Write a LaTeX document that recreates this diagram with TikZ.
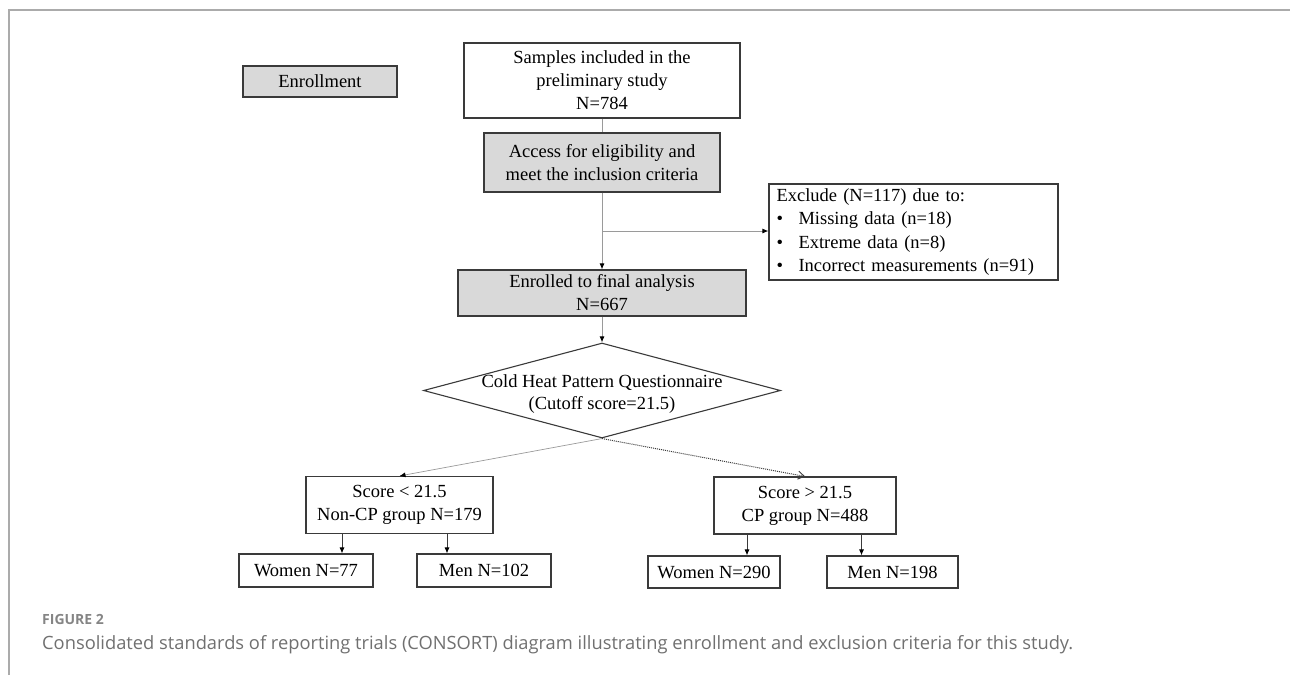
\documentclass[tikz,border=0pt]{standalone}
\usepackage{xcolor}
\usepackage{fontspec}
\setmainfont{Liberation Serif}
\newfontfamily\capfont[Ligatures=NoCommon]{Open Sans}
\usepackage{tikz}
\usetikzlibrary{shapes,arrows.meta,positioning,calc,shapes.geometric}
\definecolor{boxgray}{HTML}{D9D9D9}
\definecolor{boxline}{HTML}{3A3A3A}
\definecolor{linkgray}{HTML}{9A9A9A}
\definecolor{framegray}{HTML}{ABABAB}
\definecolor{capgray}{HTML}{707070}

\begin{document}
\begin{tikzpicture}[x=1pt, y=-1pt,
    box/.style={draw=boxline, fill=white, line width=1.1pt, inner sep=0pt, align=center, font=\fontsize{18.5}{23}\selectfont},
    graybox/.style={box, fill=boxgray},
    decision/.style={draw=boxline, fill=white, diamond, aspect=3.76, line width=1.1pt, inner sep=0pt},
    link/.style={draw=linkgray, line width=1pt},
    conn/.style={-{Latex[black, length=6pt, width=5pt]}, draw=linkgray, line width=1pt},
    sub_conn/.style={-{Latex[black, length=6pt, width=5pt]}, draw=boxline, line width=0.9pt},
    dot_conn/.style={-{Straight Barb[length=6pt, width=8pt]}, densely dotted, draw=boxline, line width=1pt},
    frame/.style={draw=framegray, line width=1.2pt}
]
    \useasboundingbox (0,0) rectangle (1290,675);
    \draw[frame] (9,675) -- (9,10) -- (1290,10);

    % Enrollment
    \node[graybox, minimum width=154, minimum height=31] (enroll) at (320,81.5) {Enrollment};
    \node[box, minimum width=276, minimum height=75] (samples) at (602,80.5) {Samples included in the\\preliminary study\\N=784};
    \node[graybox, minimum width=236, minimum height=59] (access) at (602,162.5) {Access for eligibility and\\meet the inclusion criteria};

    % Exclusion
    \node[box, align=left, minimum width=289, minimum height=96, text width=274, font=\fontsize{18.5}{23.5}\selectfont] (exclude) at (913.5,232)
        {Exclude (N=117) due to:\\
         \makebox[22pt][l]{\textbullet}Missing data (n=18)\\
         \makebox[22pt][l]{\textbullet}Extreme data (n=8)\\
         \makebox[22pt][l]{\textbullet}Incorrect measurements (n=91)};
    \node[graybox, minimum width=288, minimum height=46] (enrolled) at (602,293) {Enrolled to final analysis\\N=667};

    % Questionnaire
    \node[decision, minimum width=357, minimum height=95,
          label={[align=center, font=\fontsize{18.5}{22}\selectfont, yshift=-4pt]center:Cold Heat Pattern Questionnaire\\(Cutoff score=21.5)}] (cutoff) at (602,390.5) {};

    % Groups
    \node[box, minimum width=187, minimum height=57] (noncp) at (399.5,505) {Score < 21.5\\Non-CP group N=179};
    \node[box, minimum width=182, minimum height=57] (cp) at (805,505.5) {Score > 21.5\\CP group N=488};
    \node[box, minimum width=134, minimum height=33] (women_a) at (306,570.5) {Women N=77};
    \node[box, minimum width=134, minimum height=33] (men_a) at (484,570.5) {Men N=102};
    \node[box, minimum width=132, minimum height=32] (women_b) at (714,572) {Women N=290};
    \node[box, minimum width=131, minimum height=32] (men_b) at (892.5,572) {Men N=198};

    % Caption
    \node[anchor=west, inner sep=0pt, font=\capfont\bfseries\fontsize{14}{16}\selectfont\color{capgray!85!white}] (fig_no) at (42,619) {FIGURE 2};
    \node[anchor=west, inner sep=0pt, font=\capfont\fontsize{18.3}{21}\selectfont\color{capgray}] (caption) at (42,645) {Consolidated standards of reporting trials (CONSORT) diagram illustrating enrollment and exclusion criteria for this study.};

    % Flow
    \draw[link] (samples) -- (access);
    \draw[conn] (access) -- (enrolled);
    \coordinate (split) at (602,231);
    \draw[conn] (split) -- (split -| exclude.west);
    \draw[conn] (enrolled) -- (cutoff.north);
    \draw[conn, line width=0.7pt] (cutoff.south) -- (noncp.north);
    \draw[dot_conn] (cutoff.south) -- (cp.north);

    % Subgroups
    \draw[sub_conn] ([xshift=36]women_a.north |- noncp.south) -- ([xshift=36]women_a.north);
    \draw[sub_conn] ([xshift=-37]men_a.north |- noncp.south) -- ([xshift=-37]men_a.north);
    \draw[sub_conn] ([xshift=33]women_b.north |- cp.south) -- ([xshift=33]women_b.north);
    \draw[sub_conn] ([xshift=-31]men_b.north |- cp.south) -- ([xshift=-31]men_b.north);

\end{tikzpicture}
\end{document}
